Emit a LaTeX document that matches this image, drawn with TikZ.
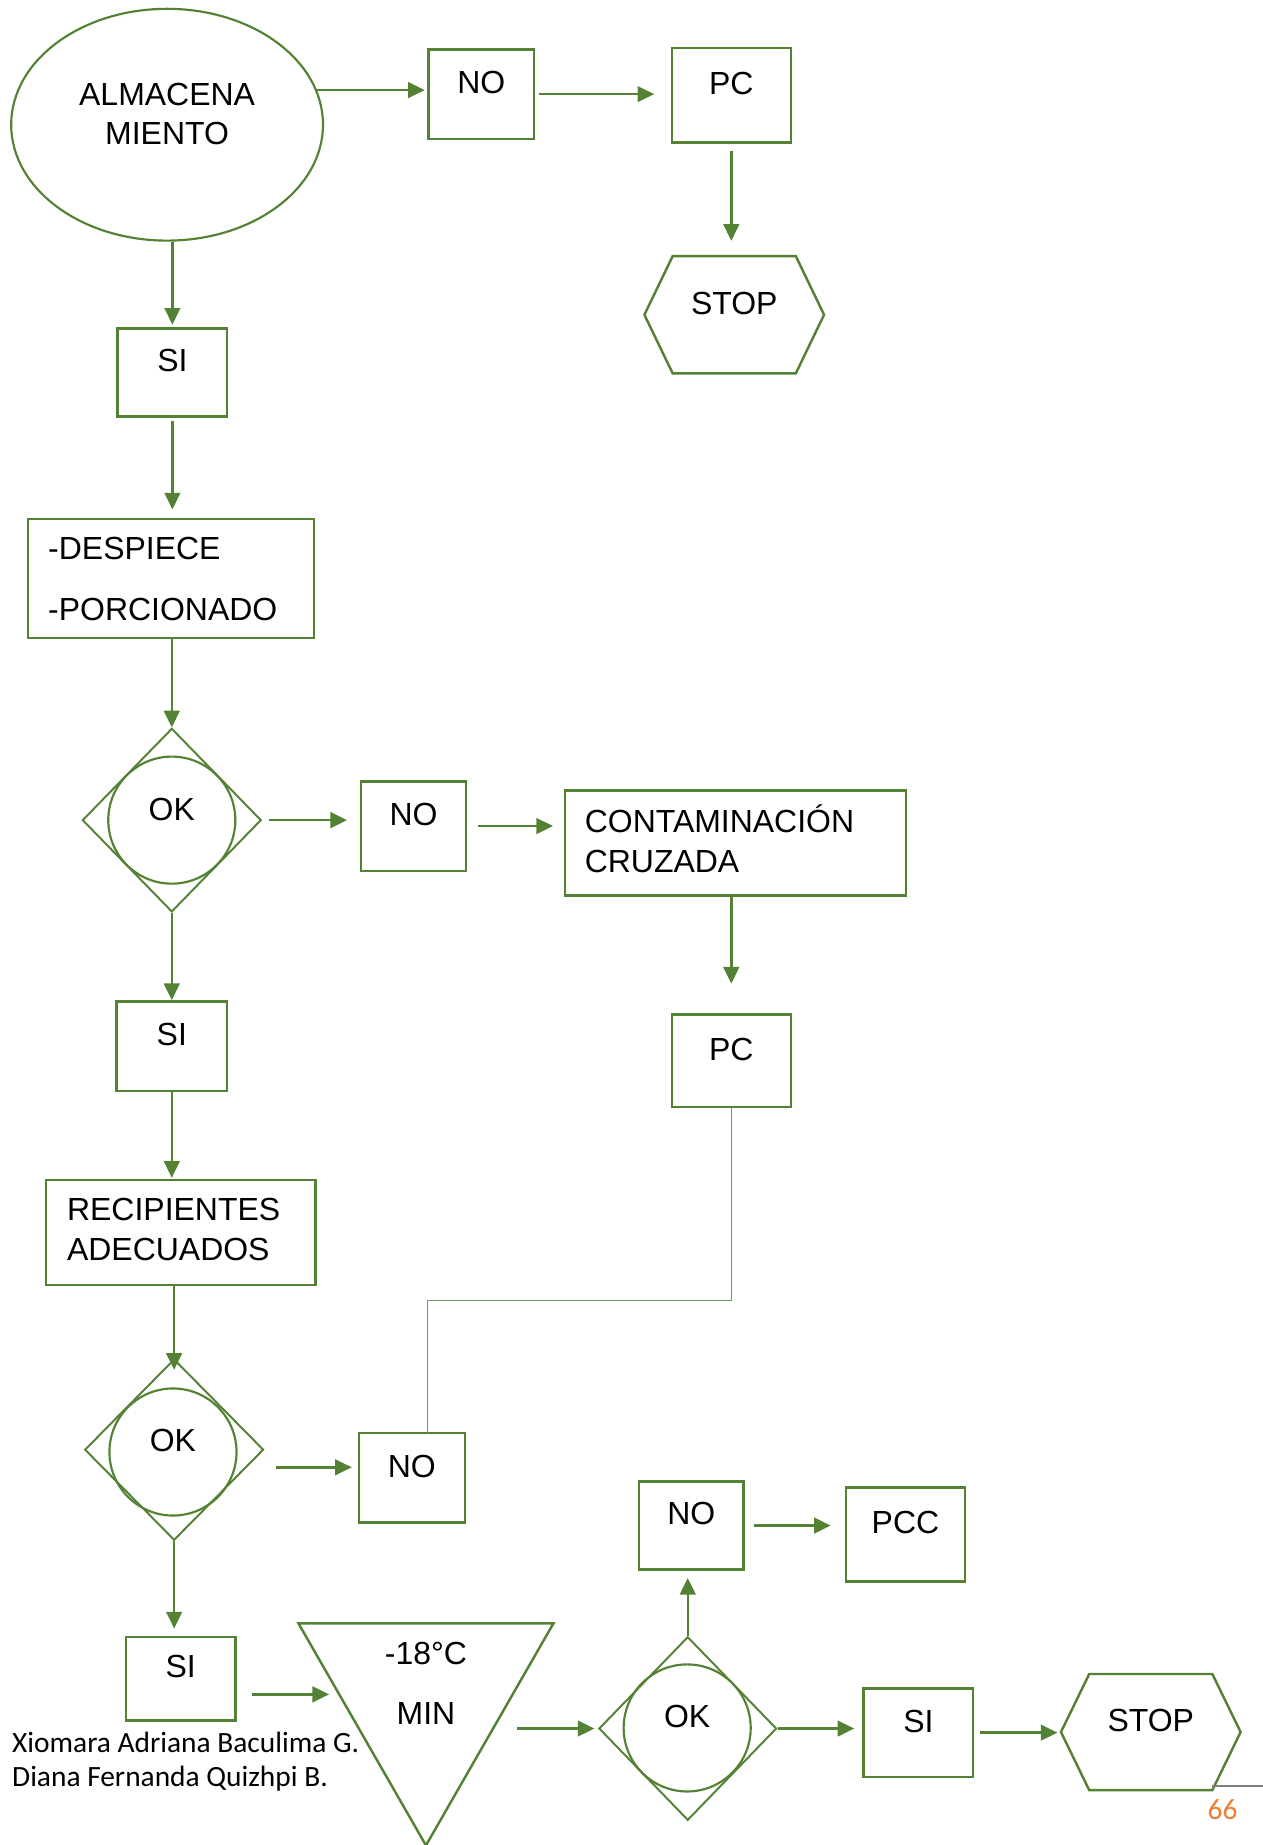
\documentclass[tikz,border=0pt]{standalone}
\usepackage{fontspec}
\setmainfont{Liberation Sans}
\newfontfamily\calibri{Carlito}
\usetikzlibrary{positioning,arrows.meta,shapes.geometric}
\definecolor{leaf}{HTML}{548235}
\definecolor{pageorange}{HTML}{ED7D31}

\begin{document}
\begin{tikzpicture}[
  x=0.6pt, y=-0.6pt,
  font=\fontsize{16.3}{19.8}\selectfont,
  shp/.style={draw=leaf, line width=1.25pt},
  box/.style={shp, rectangle, inner sep=0pt, text depth=12pt},
  tbox/.style={shp, rectangle, align=left, inner xsep=10.2pt, inner ysep=0pt, text height=12pt, font=\fontsize{16.3}{20.4}\selectfont},
  stopbox/.style={rectangle, inner sep=0pt, minimum width=91.2pt, text depth=12pt},
  dia/.style={draw=leaf, line width=1pt, diamond, inner sep=0pt, minimum width=91.2pt, minimum height=93.6pt},
  okc/.style={draw=leaf, line width=1.1pt, circle, inner sep=0pt, minimum size=64.8pt, text depth=11.5pt},
  arr/.style={draw=leaf, line width=1.25pt, -{Triangle[length=8.5pt,width=8pt]}},
  link/.style={draw=leaf!85, line width=0.6pt},
  firma/.style={font=\calibri\fontsize{15}{17.4}\selectfont, align=left, inner sep=0pt}
]
\useasboundingbox (0,0) rectangle (1073,1568);

% Almacenamiento
\node[shp, line width=1.1pt, ellipse, minimum width=159pt, minimum height=118.2pt, align=center, inner sep=0pt, text depth=11.4pt] (alm) at (142,106) {ALMACENA\\MIENTO};
\node[box, minimum width=54pt, minimum height=45.6pt] (no1) at (409,80) {NO};
\node[box, minimum width=60.6pt, minimum height=48pt] (pc1) at (621.5,81) {PC};
\node[stopbox, minimum height=59.4pt] (stop1) at (624,267.5) {STOP};
\node[box, minimum width=55.8pt, minimum height=45pt] (si1) at (146.5,316.5) {SI};

% Despiece
\node[tbox, text width=125.4pt, minimum height=60.6pt] (desp) at (145.5,491.5) {-DESPIECE\\[10.8pt]-PORCIONADO};
\node[dia] (ok1) at (146,697) {};
\node[okc] (ok1c) at (ok1) {OK};
\node[box, minimum width=53.4pt, minimum height=45.6pt] (no2) at (351.5,702) {NO};
\node[tbox, text width=153.6pt, minimum height=53.4pt, text height=9.6pt] (cont) at (625,716.5) {CONTAMINACIÓN\\CRUZADA};
\node[box, minimum width=60.6pt, minimum height=47.4pt] (pc2) at (621.5,901.5) {PC};
\node[box, minimum width=56.4pt, minimum height=45.6pt] (si2) at (146,889) {SI};

% Recipientes
\node[tbox, text width=115.8pt, inner xsep=10.8pt, minimum height=53.4pt, text height=8.4pt] (recip) at (153.5,1047.5) {RECIPIENTES\\ADECUADOS};
\node[dia, minimum height=92.4pt] (ok2) at (148,1232) {};
\node[okc] (ok2c) at (147,1234) {OK};
\node[box, minimum width=54pt, minimum height=45.6pt] (no3) at (350,1256) {NO};
\node[box, minimum width=55.8pt, minimum height=42.6pt] (si3) at (153.5,1426.5) {SI};

% Congelacion
\node[rectangle, inner sep=0pt, minimum width=129.6pt, minimum height=112.8pt] (frz) at (362,1474) {};
\node[align=center, inner sep=0pt, font=\fontsize{16.3}{30.6}\selectfont] (frzt) at (362,1430.5) {-18°C\\MIN};
\node[dia, minimum width=90.6pt] (ok3) at (584.5,1469) {};
\node[okc] (ok3c) at (584,1468.5) {OK};
\node[box, minimum width=53.4pt, minimum height=45pt] (no4) at (587.5,1296.5) {NO};
\node[box, minimum width=60.6pt, minimum height=48pt] (pcc) at (769.5,1304) {PCC};
\node[box, minimum width=55.8pt, minimum height=45pt] (si4) at (780.5,1472.5) {SI};
\node[stopbox, minimum height=58.8pt] (stop2) at (978,1472) {STOP};

% Outlines
\foreach \s in {stop1,stop2}
  \draw[shp] (\s.west) -- ([xshift=14.4pt]\s.north west) -- ([xshift=-14.4pt]\s.north east)
    -- (\s.east) -- ([xshift=-14.4pt]\s.south east) -- ([xshift=14.4pt]\s.south west) -- cycle;
\draw[shp] (frz.north west) -- (frz.north east) -- (frz.south) -- cycle;

% Connectors, top row
\draw[arr, shorten >=1.2pt] (alm.13) -- (alm.13 -| no1.west);
\draw[arr, shorten <=1.8pt, shorten >=8.4pt] (no1.east) -- (no1.east -| pc1.west);
\draw[arr, shorten <=3.6pt, shorten >=7.8pt] (pc1.south) -- (pc1.south |- stop1.north);

% Connectors, main column
\draw[arr, shorten >=1.2pt] (si1.north |- alm.south) -- (si1.north);
\draw[arr, shorten <=1.8pt, shorten >=4.2pt] (si1.south) -- (si1.south |- desp.north);
\draw[arr] (ok1.north |- desp.south) -- (ok1.north);
\draw[arr, shorten <=3.6pt, shorten >=6.6pt] (ok1.east) -- (ok1.east -| no2.west);
\draw[arr, shorten <=5.4pt, shorten >=5.4pt] (no2.east) -- (no2.east -| cont.west);
\draw[arr, shorten >=15pt] (pc2.north |- cont.south) -- (pc2.north);
\draw[link] (pc2.south) -- ++(0,163) -| ([xshift=7.8pt, yshift=-1.2pt]no3.north);
\draw[arr] (ok1.south) -- (ok1.south |- si2.north);
\draw[arr, shorten >=0.6pt] (si2.south) -- (si2.south |- recip.north);
\draw[arr, shorten <=-1.2pt, shorten >=-6pt] (ok2.north |- recip.south) -- (ok2.north);
\draw[arr, shorten <=6pt, shorten >=3pt] ([yshift=-9pt]ok2.east) -- ([yshift=-9pt]ok2.east -| no3.west);
\draw[arr, shorten >=3.6pt] (ok2.south) -- (ok2.south |- si3.north);

% Connectors, bottom row
\draw[arr, shorten <=7.8pt, shorten >=-15.6pt] ([yshift=-8.1pt]si3.east) -- ([yshift=-8.1pt]si3.east -| frz.west);
\draw[arr, shorten <=-18.6pt, shorten >=1.8pt] (frz.east |- ok3.west) -- (ok3.west);
\draw[arr, shorten >=3.6pt] (ok3.north) -- (ok3.north |- no4.south);
\draw[arr, shorten <=4.8pt, shorten >=7.2pt] (no4.east) -- (no4.east -| pcc.west);
\draw[arr, shorten >=4.2pt] (ok3.east) -- (ok3.east -| si4.west);
\draw[arr, shorten <=3pt, shorten >=1.8pt] (si4.east) -- (si4.east -| stop2.west);

% Page footer
\node[firma, anchor=base west] (autores) at (10,1518.5) {Xiomara Adriana Baculima G.\\Diana Fernanda Quizhpi B.};
\draw[gray, line width=0.8pt] (1030,1518) -- (1073,1518);
\node[font=\calibri\fontsize{15}{18}\selectfont, text=pageorange, inner sep=0pt] (pag) at (1039,1538) {66};
\end{tikzpicture}
\end{document}
